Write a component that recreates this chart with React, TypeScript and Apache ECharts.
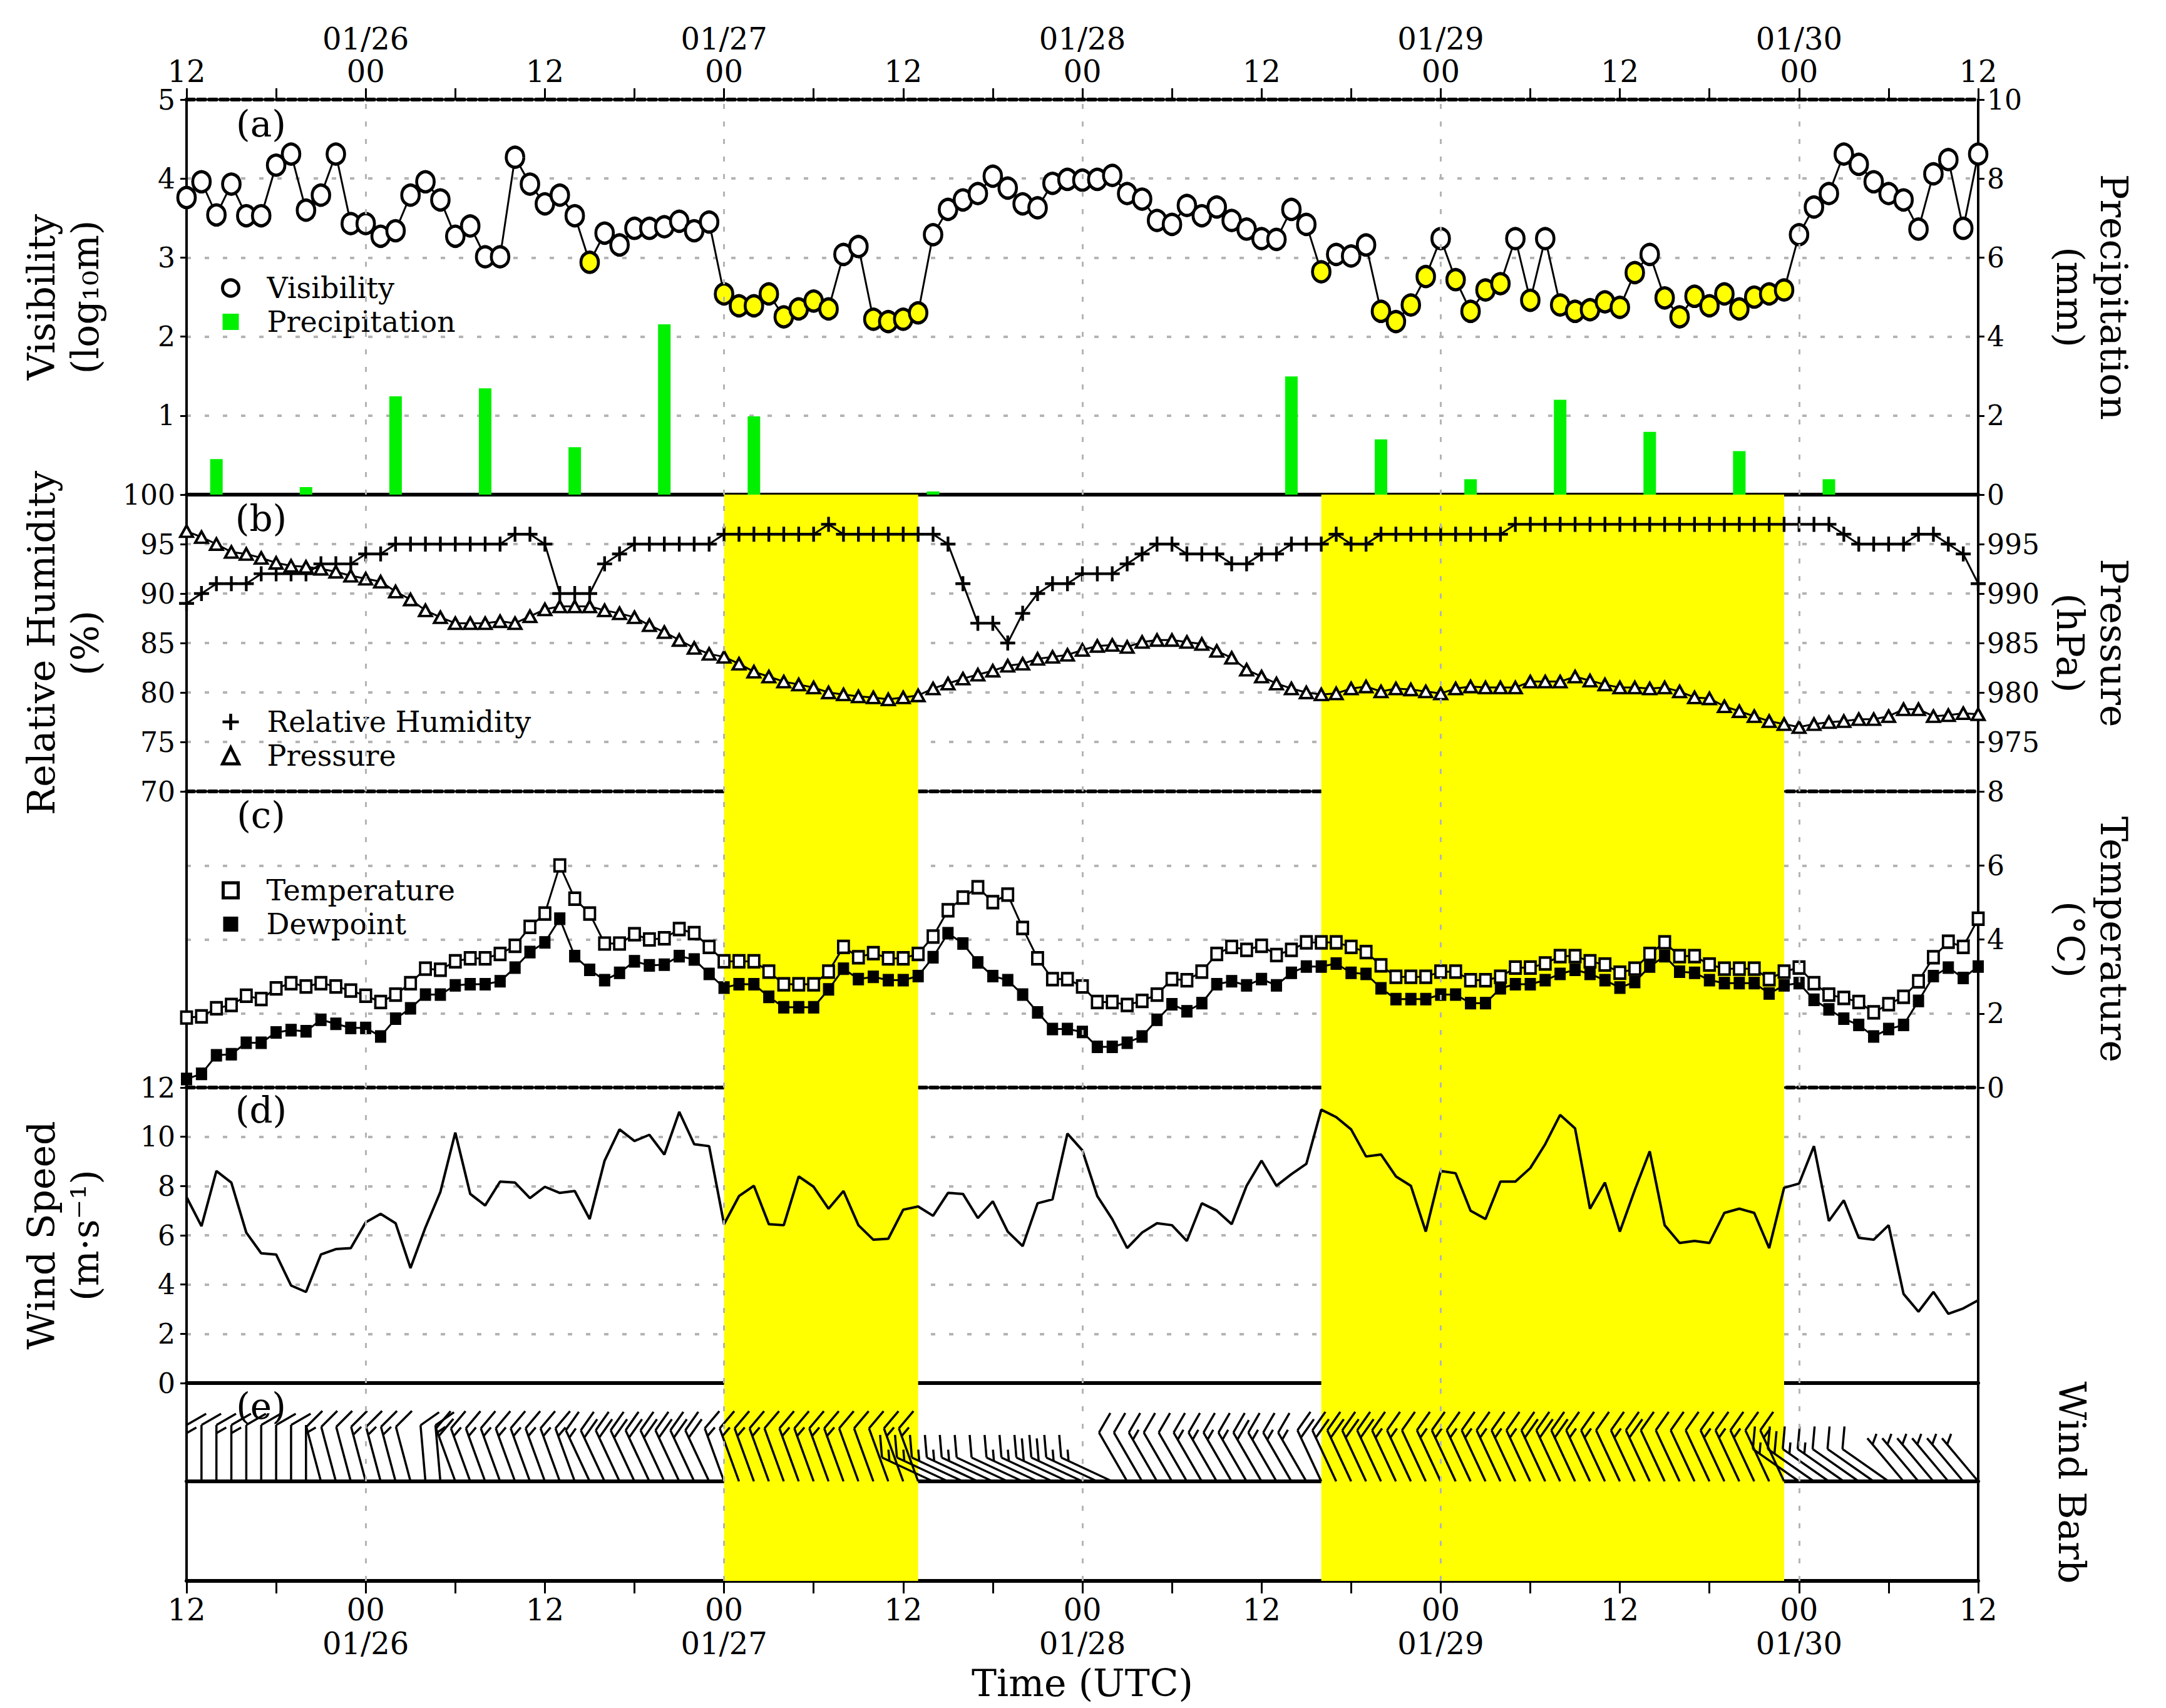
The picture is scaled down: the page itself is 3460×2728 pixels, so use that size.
import React, { useEffect, useRef } from "react";
import * as echarts from "echarts";

const FONT = "DejaVu Serif";

const TICK_HOURS = [0, 12, 24, 36, 48, 60, 72, 84, 96, 108, 120];
const TICK_LABELS = ["12", "00", "12", "00", "12", "00", "12", "00", "12", "00", "12"];
const DAY_HOURS = [12, 36, 60, 84, 108];
const DATE_LABELS = ["01/26", "01/27", "01/28", "01/29", "01/30"];
const SHADED = [[36, 49], [76, 107]];

const VISIBILITY = [
  3.76, 3.96, 3.54, 3.93, 3.53, 3.53, 4.17, 4.31, 3.6, 3.79,
  4.31, 3.43, 3.43, 3.27, 3.34, 3.79, 3.96, 3.73, 3.27, 3.4,
  3.01, 3.01, 4.27, 3.93, 3.68, 3.79, 3.53, 2.94, 3.31, 3.16,
  3.37, 3.37, 3.39, 3.46, 3.34, 3.45, 2.54, 2.39, 2.39, 2.54,
  2.25, 2.35, 2.45, 2.35, 3.04, 3.14, 2.22, 2.19, 2.22, 2.3,
  3.29, 3.61, 3.73, 3.81, 4.03, 3.88, 3.68, 3.63, 3.94, 3.99,
  3.98, 3.99, 4.04, 3.81, 3.74, 3.47, 3.42, 3.66, 3.53, 3.64,
  3.47, 3.36, 3.24, 3.23, 3.61, 3.42, 2.82, 3.04, 3.02, 3.16,
  2.32, 2.19, 2.4, 2.76, 3.24, 2.72, 2.32, 2.59, 2.67, 3.24,
  2.46, 3.24, 2.4, 2.32, 2.34, 2.44, 2.37, 2.81, 3.04, 2.49,
  2.25, 2.51, 2.39, 2.54, 2.35, 2.5, 2.54, 2.59, 3.29, 3.64,
  3.81, 4.31, 4.18, 3.96, 3.81, 3.73, 3.36, 4.06, 4.24, 3.37,
  4.31,
];

const PRECIP_HOURS = [2, 8, 14, 20, 26, 32, 38, 44, 50, 56, 62, 68, 74, 80, 86, 92, 98, 104, 110, 116];
const PRECIP = [0.9, 0.19, 2.49, 2.69, 1.2, 4.31, 1.98, 0, 0.08, 0, 0, 0, 2.99, 1.4, 0.39, 2.4, 1.59, 1.1, 0.39, 0];

const RH = [
  89, 90, 91, 91, 91, 92, 92, 92, 92, 93,
  93, 93, 94, 94, 95, 95, 95, 95, 95, 95,
  95, 95, 96, 96, 95, 90, 90, 90, 93, 94,
  95, 95, 95, 95, 95, 95, 96, 96, 96, 96,
  96, 96, 96, 97, 96, 96, 96, 96, 96, 96,
  96, 95, 91, 87, 87, 85, 88, 90, 91, 91,
  92, 92, 92, 93, 94, 95, 95, 94, 94, 94,
  93, 93, 94, 94, 95, 95, 95, 96, 95, 95,
  96, 96, 96, 96, 96, 96, 96, 96, 96, 97,
  97, 97, 97, 97, 97, 97, 97, 97, 97, 97,
  97, 97, 97, 97, 97, 97, 97, 97, 97, 97,
  97, 96, 95, 95, 95, 95, 96, 96, 95, 94,
  91,
];

const PRESSURE = [
  996.3, 995.7, 995.0, 994.2, 994.0, 993.6, 993.1, 992.8, 992.7, 992.5,
  992.2, 991.8, 991.5, 991.2, 990.2, 989.4, 988.3, 987.6, 987.0, 987.0,
  987.0, 987.2, 987.0, 987.7, 988.4, 988.7, 988.7, 988.7, 988.3, 988.0,
  987.6, 986.8, 986.1, 985.3, 984.5, 983.9, 983.6, 982.9, 982.1, 981.6,
  981.1, 980.8, 980.5, 980.0, 979.8, 979.6, 979.5, 979.3, 979.5, 979.7,
  980.4, 980.9, 981.4, 981.8, 982.2, 982.7, 982.9, 983.4, 983.6, 983.8,
  984.3, 984.7, 984.8, 984.6, 985.1, 985.3, 985.3, 985.1, 984.9, 984.2,
  983.5, 982.3, 981.6, 980.9, 980.4, 980.0, 979.8, 979.9, 980.4, 980.6,
  980.1, 980.4, 980.3, 980.1, 979.9, 980.4, 980.6, 980.5, 980.5, 980.5,
  981.1, 981.1, 981.1, 981.6, 981.2, 980.8, 980.5, 980.5, 980.4, 980.5,
  980.1, 979.5, 979.4, 978.6, 978.1, 977.6, 977.1, 976.8, 976.5, 976.8,
  977.0, 977.1, 977.3, 977.3, 977.6, 978.3, 978.3, 977.6, 977.7, 977.9,
  977.8,
];

const TEMPERATURE = [
  1.89, 1.92, 2.14, 2.23, 2.48, 2.39, 2.68, 2.82, 2.73, 2.82,
  2.73, 2.62, 2.48, 2.31, 2.51, 2.82, 3.21, 3.18, 3.41, 3.49,
  3.49, 3.61, 3.83, 4.34, 4.7, 6.0, 5.1, 4.7, 3.89, 3.89,
  4.14, 4.0, 4.03, 4.28, 4.17, 3.8, 3.41, 3.41, 3.41, 3.13,
  2.79, 2.79, 2.79, 3.13, 3.8, 3.52, 3.63, 3.49, 3.49, 3.61,
  4.08, 4.79, 5.13, 5.41, 5.01, 5.21, 4.31, 3.49, 2.93, 2.93,
  2.73, 2.31, 2.31, 2.23, 2.34, 2.51, 2.93, 2.9, 3.13, 3.61,
  3.8, 3.72, 3.83, 3.58, 3.72, 3.92, 3.92, 3.92, 3.8, 3.66,
  3.3, 2.99, 2.99, 2.99, 3.13, 3.13, 2.9, 2.9, 2.99, 3.24,
  3.24, 3.35, 3.55, 3.55, 3.41, 3.32, 3.1, 3.21, 3.61, 3.92,
  3.55, 3.55, 3.32, 3.21, 3.21, 3.21, 2.93, 3.13, 3.24, 2.82,
  2.51, 2.42, 2.31, 2.03, 2.25, 2.45, 2.87, 3.52, 3.94, 3.8,
  4.56,
];

const DEWPOINT = [
  0.23, 0.37, 0.87, 0.9, 1.21, 1.21, 1.49, 1.55, 1.52, 1.83,
  1.72, 1.61, 1.61, 1.38, 1.86, 2.14, 2.51, 2.51, 2.76, 2.79,
  2.79, 2.87, 3.24, 3.66, 3.92, 4.56, 3.55, 3.18, 2.9, 3.1,
  3.41, 3.3, 3.32, 3.55, 3.46, 3.07, 2.7, 2.79, 2.79, 2.45,
  2.17, 2.17, 2.17, 2.65, 3.21, 2.93, 2.99, 2.9, 2.9, 3.01,
  3.52, 4.17, 3.89, 3.38, 3.01, 2.9, 2.51, 2.03, 1.58, 1.58,
  1.5, 1.1, 1.1, 1.21, 1.38, 1.83, 2.25, 2.06, 2.28, 2.79,
  2.87, 2.76, 2.93, 2.76, 3.1, 3.27, 3.27, 3.35, 3.1, 3.07,
  2.68, 2.39, 2.39, 2.39, 2.51, 2.51, 2.28, 2.28, 2.68, 2.79,
  2.79, 2.9, 3.07, 3.18, 3.07, 2.9, 2.7, 2.85, 3.27, 3.55,
  3.13, 3.1, 2.9, 2.82, 2.82, 2.82, 2.54, 2.76, 2.82, 2.37,
  2.11, 1.86, 1.69, 1.38, 1.58, 1.69, 2.34, 3.01, 3.24, 2.96,
  3.27,
];

const WIND_SPEED = [
  7.55, 6.37, 8.61, 8.14, 6.11, 5.27, 5.22, 3.96, 3.7, 5.22,
  5.44, 5.48, 6.53, 6.87, 6.49, 4.67, 6.32, 7.76, 10.17, 7.68,
  7.21, 8.18, 8.14, 7.51, 7.97, 7.72, 7.8, 6.66, 9.03, 10.3,
  9.83, 10.08, 9.28, 11.01, 9.7, 9.62, 6.45, 7.59, 8.01, 6.45,
  6.41, 8.39, 7.97, 7.08, 7.8, 6.41, 5.82, 5.86, 7.04, 7.17,
  6.79, 7.72, 7.68, 6.7, 7.38, 6.15, 5.56, 7.3, 7.46, 10.13,
  9.45, 7.59, 6.66, 5.48, 6.11, 6.49, 6.41, 5.77, 7.3, 7.0,
  6.45, 8.01, 9.03, 8.01, 8.48, 8.9, 11.1, 10.8, 10.3, 9.2,
  9.28, 8.39, 8.01, 6.15, 8.61, 8.52, 7.0, 6.66, 8.18, 8.18,
  8.73, 9.7, 10.89, 10.34, 7.08, 8.14, 6.15, 7.84, 9.41, 6.41,
  5.69, 5.77, 5.69, 6.91, 7.08, 6.91, 5.48, 7.93, 8.1, 9.62,
  6.58, 7.42, 5.9, 5.82, 6.41, 3.62, 2.9, 3.7, 2.81, 3.03,
  3.36,
];

const WIND_DIR = [
  0, 0, 0, 0, 0, 0, 0, 0, 0, 345,
  345, 345, 345, 345, 345, 345, 355, 355, 340, 340,
  340, 340, 340, 340, 340, 340, 340, 335, 335, 335,
  335, 335, 335, 335, 335, 335, 340, 340, 340, 340,
  340, 340, 340, 340, 340, 340, 340, 340, 340, 340,
  295, 295, 295, 295, 295, 295, 295, 295, 295, 295,
  295, 295, 295, 330, 330, 330, 330, 330, 330, 330,
  330, 330, 330, 330, 330, 330, 335, 335, 335, 335,
  335, 335, 335, 335, 335, 335, 335, 335, 335, 335,
  335, 335, 335, 335, 335, 335, 335, 335, 335, 335,
  335, 335, 335, 335, 335, 335, 335, 335, 305, 305,
  305, 305, 305, 305, 305, 320, 320, 320, 320, 320,
  320,
];

const PLUS_PATH = "path://M9,0H13V9H22V13H13V22H9V13H0V9H9Z";

const GRIDS = [
  { top: 159, height: 631 },
  { top: 790, height: 474 },
  { top: 1264, height: 473 },
  { top: 1737, height: 472 },
  { top: 2209, height: 157 },
  { top: 2366, height: 159 },
];

function hourFormatter(v: number) {
  const i = TICK_HOURS.indexOf(v);
  return i < 0 ? "" : TICK_LABELS[i];
}

function dateFormatter(v: number) {
  const d = DAY_HOURS.indexOf(v);
  return d < 0 ? "" : DATE_LABELS[d];
}

const DOT = { color: "#b4b4b4", type: [7, 22], width: 4 };
const LABEL_FONT = { color: "#000", fontFamily: FONT, fontSize: 48, lineHeight: 48 };

function xAxisBase(gridIndex: number, lineType: any, extra: any = {}) {
  return {
    type: "value",
    gridIndex,
    min: 0,
    max: 120,
    interval: 6,
    axisLine: { show: true, onZero: false, lineStyle: { color: "#000", width: 6, type: lineType } },
    axisTick: { show: false },
    axisLabel: { show: false },
    splitLine: { show: false },
    ...extra,
  };
}

function dateAxis(gridIndex: number, position: string, margin: number, extra: any = {}) {
  return {
    type: "value",
    gridIndex,
    position,
    min: 0,
    max: 120,
    interval: 6,
    axisLine: { show: false, onZero: false },
    axisTick: { show: false },
    axisLabel: { show: true, ...LABEL_FONT, margin, formatter: dateFormatter },
    splitLine: { show: false },
    ...extra,
  };
}

function yAxisBase(gridIndex: number, position: string, min: number, max: number, interval: number, extra: any = {}) {
  return {
    type: "value",
    gridIndex,
    position,
    min,
    max,
    interval,
    axisLine: { show: true, onZero: false, lineStyle: { color: "#000", width: 4 } },
    axisTick: { show: true, length: 10, lineStyle: { color: "#000", width: 3 } },
    axisLabel: {
      show: true,
      color: "#000",
      fontFamily: FONT,
      fontSize: 44,
      margin: position === "left" ? 18 : 14,
    },
    splitLine: { show: false },
    nameLocation: "middle",
    nameRotate: position === "left" ? 90 : -90,
    nameGap: position === "left" ? 127 : 112,
    nameTextStyle: { color: "#000", fontFamily: FONT, fontSize: 60, lineHeight: 70 },
    ...extra,
  };
}

function bandSeries(gi: number, xi: number, yi: number) {
  return {
    type: "line",
    xAxisIndex: xi,
    yAxisIndex: yi,
    data: [],
    silent: true,
    z: -1,
    markArea: gi === 0 ? undefined : {
      silent: true,
      itemStyle: { color: "#ffff00" },
      data: SHADED.map((b) => [{ xAxis: b[0] }, { xAxis: b[1] }]),
    },
    markLine: {
      silent: true,
      symbol: "none",
      label: { show: false },
      lineStyle: { color: "#b4b4b4", type: [8, 20], width: 3 },
      data: DAY_HOURS.map((h) => ({ xAxis: h })),
    },
  };
}

function barbRender(params: any, api: any) {
  const h = api.value(0);
  const ms = api.value(1);
  const dir = api.value(2);
  const base = api.coord([h, 0]);
  const th = (dir * Math.PI) / 180;
  const sx = Math.sin(th);
  const sy = -Math.cos(th);
  const L = 90;
  const F = 36;
  const GAP = 13;
  const tip = [base[0] + L * sx, base[1] + L * sy];
  const fx = 0.87 * -sy + 0.5 * sx;
  const fy = 0.87 * sx + 0.5 * sy;
  const st = { stroke: "#000", lineWidth: 3.5 };
  const children: any[] = [
    { type: "line", shape: { x1: base[0], y1: base[1], x2: tip[0], y2: tip[1] }, style: st },
  ];
  let kt = Math.round((ms * 1.9438) / 5) * 5;
  let pos = 0;
  while (kt >= 10) {
    const p = [tip[0] - pos * sx, tip[1] - pos * sy];
    children.push({ type: "line", shape: { x1: p[0], y1: p[1], x2: p[0] + F * fx, y2: p[1] + F * fy }, style: st });
    pos += GAP;
    kt -= 10;
  }
  if (kt >= 5) {
    if (pos === 0) pos = GAP;
    const p = [tip[0] - pos * sx, tip[1] - pos * sy];
    children.push({ type: "line", shape: { x1: p[0], y1: p[1], x2: p[0] + (F / 2) * fx, y2: p[1] + (F / 2) * fy }, style: st });
  }
  return { type: "group", children };
}

function buildOption() {
  const legendText = { color: "#000", fontFamily: FONT, fontSize: 46, padding: [0, 0, 0, 40] };
  const legendBase = {
    orient: "vertical",
    itemWidth: 26,
    itemHeight: 26,
    itemGap: 8,
    selectedMode: false,
    textStyle: legendText,
  };
  const noLabelY = { axisLabel: { show: false }, axisTick: { show: false } };
  return {
    animation: false,
    backgroundColor: "#fff",
    textStyle: { fontFamily: FONT },
    grid: GRIDS.map((g) => ({ left: 298, width: 2862, top: g.top, height: g.height, containLabel: false })),
    xAxis: [
      xAxisBase(0, [12, 6], {
        position: "top",
        axisTick: { show: true, length: 18, lineStyle: { color: "#000", width: 3 } },
        axisLabel: { show: true, ...LABEL_FONT, margin: 21, formatter: hourFormatter },
      }),
      xAxisBase(0, "solid", { position: "bottom" }),
      xAxisBase(1, [12, 6], { position: "bottom" }),
      xAxisBase(2, [12, 6], { position: "bottom" }),
      xAxisBase(3, "solid", { position: "bottom" }),
      xAxisBase(4, "solid", { position: "bottom" }),
      xAxisBase(5, "solid", {
        position: "bottom",
        axisTick: { show: true, length: 20, lineStyle: { color: "#000", width: 3 } },
        axisLabel: { show: true, ...LABEL_FONT, margin: 22, formatter: hourFormatter },
      }),
      dateAxis(0, "top", 73),
      dateAxis(5, "bottom", 76, {
        name: "Time (UTC)",
        nameLocation: "middle",
        nameGap: 133,
        nameTextStyle: { color: "#000", fontFamily: FONT, fontSize: 60 },
      }),
    ],
    yAxis: [
      yAxisBase(0, "left", 0, 5, 1, {
        name: "Visibility\n(log\u2081\u2080m)",
        axisLabel: { show: true, color: "#000", fontFamily: FONT, fontSize: 44, margin: 18, showMinLabel: false },
        splitLine: { show: true, lineStyle: DOT },
      }),
      yAxisBase(0, "right", 0, 10, 2, { name: "Precipitation\n(mm)" }),
      yAxisBase(1, "left", 70, 100, 5, {
        name: "Relative Humidity\n(%)",
        splitLine: { show: true, lineStyle: DOT },
      }),
      yAxisBase(1, "right", 970, 1000, 5, {
        name: "Pressure\n(hPa)",
        axisLabel: { show: true, color: "#000", fontFamily: FONT, fontSize: 44, margin: 14, showMinLabel: false, showMaxLabel: false },
      }),
      yAxisBase(2, "left", 0, 8, 2, noLabelY),
      yAxisBase(2, "right", 0, 8, 2, {
        name: "Temperature\n(\u00b0C)",
        splitLine: { show: true, lineStyle: DOT },
      }),
      yAxisBase(3, "left", 0, 12, 2, {
        name: "Wind Speed\n(m\u00b7s\u207b\u00b9)",
        splitLine: { show: true, lineStyle: DOT },
      }),
      yAxisBase(3, "right", 0, 12, 2, noLabelY),
      yAxisBase(4, "left", 0, 1, 1, noLabelY),
      yAxisBase(4, "right", 0, 1, 1, noLabelY),
      yAxisBase(5, "left", 0, 1, 1, noLabelY),
      yAxisBase(5, "right", 0, 1, 1, noLabelY),
    ],
    legend: [
      {
        ...legendBase,
        left: 348,
        top: 432,
        data: [
          { name: "Visibility", icon: "circle", itemStyle: { color: "#fff", borderColor: "#000", borderWidth: 5 } },
          { name: "Precipitation", icon: "rect", itemStyle: { color: "#00f000", borderWidth: 0 } },
        ],
      },
      {
        ...legendBase,
        left: 348,
        top: 1125,
        data: [
          { name: "Relative Humidity", icon: PLUS_PATH, itemStyle: { color: "#000", borderWidth: 0 } },
          { name: "Pressure", icon: "triangle", itemStyle: { color: "#fff", borderColor: "#000", borderWidth: 5 } },
        ],
      },
      {
        ...legendBase,
        itemWidth: 24,
        itemHeight: 24,
        left: 349,
        top: 1394,
        data: [
          { name: "Temperature", icon: "rect", itemStyle: { color: "#fff", borderColor: "#000", borderWidth: 5 } },
          { name: "Dewpoint", icon: "rect", itemStyle: { color: "#000", borderWidth: 0 } },
        ],
      },
    ],
    graphic: [
      ...["(a)", "(b)", "(c)", "(d)", "(e)"].map((t, i) => ({
        type: "text",
        x: 417,
        y: [198, 828, 1302, 1773, 2246][i],
        style: { text: t, fill: "#000", fontFamily: FONT, fontSize: 58, align: "center", verticalAlign: "middle" },
        z: 50,
      })),
      {
        type: "text",
        x: 3310,
        y: 2368,
        rotation: -Math.PI / 2,
        style: { text: "Wind Barb", fill: "#000", fontFamily: FONT, fontSize: 60, align: "center", verticalAlign: "middle" },
      },
    ],
    series: [
      bandSeries(0, 1, 0),
      bandSeries(1, 2, 2),
      bandSeries(2, 3, 5),
      bandSeries(3, 4, 6),
      bandSeries(4, 5, 8),
      bandSeries(5, 6, 10),
      {
        name: "Precipitation",
        type: "bar",
        xAxisIndex: 1,
        yAxisIndex: 1,
        barWidth: 20,
        itemStyle: { color: "#00f000" },
        data: PRECIP_HOURS.map((h, i) => [h, PRECIP[i]]),
        z: 2,
      },
      {
        name: "Visibility",
        type: "line",
        xAxisIndex: 1,
        yAxisIndex: 0,
        symbol: "circle",
        symbolSize: [28, 32],
        lineStyle: { color: "#000", width: 3 },
        itemStyle: { color: "#fff", borderColor: "#000", borderWidth: 5 },
        data: VISIBILITY.map((v, i) => ({ value: [i, v], itemStyle: { color: v < 3 ? "#ffff00" : "#fff" } })),
        z: 4,
      },
      {
        name: "Relative Humidity",
        type: "line",
        xAxisIndex: 2,
        yAxisIndex: 2,
        symbol: PLUS_PATH,
        symbolSize: 24,
        lineStyle: { color: "#000", width: 3 },
        itemStyle: { color: "#000" },
        data: RH.map((v, i) => [i, v]),
        z: 4,
      },
      {
        name: "Pressure",
        type: "line",
        xAxisIndex: 2,
        yAxisIndex: 3,
        symbol: "triangle",
        symbolSize: [20, 18],
        lineStyle: { color: "#000", width: 3 },
        itemStyle: { color: "#fff", borderColor: "#000", borderWidth: 4 },
        data: PRESSURE.map((v, i) => [i, v]),
        z: 4,
      },
      {
        name: "Temperature",
        type: "line",
        xAxisIndex: 3,
        yAxisIndex: 5,
        symbol: "rect",
        symbolSize: [17, 19],
        lineStyle: { color: "#000", width: 3 },
        itemStyle: { color: "#fff", borderColor: "#000", borderWidth: 4 },
        data: TEMPERATURE.map((v, i) => [i, v]),
        z: 4,
      },
      {
        name: "Dewpoint",
        type: "line",
        xAxisIndex: 3,
        yAxisIndex: 5,
        symbol: "rect",
        symbolSize: [17, 19],
        lineStyle: { color: "#000", width: 3 },
        itemStyle: { color: "#000", borderColor: "#000", borderWidth: 1 },
        data: DEWPOINT.map((v, i) => [i, v]),
        z: 4,
      },
      {
        name: "Wind Speed",
        type: "line",
        xAxisIndex: 4,
        yAxisIndex: 6,
        symbol: "none",
        lineStyle: { color: "#000", width: 4 },
        data: WIND_SPEED.map((v, i) => [i, v]),
        z: 4,
      },
      {
        name: "Wind Barb",
        type: "custom",
        xAxisIndex: 5,
        yAxisIndex: 8,
        clip: false,
        renderItem: barbRender,
        data: WIND_SPEED.map((v, i) => [i, v, WIND_DIR[i]]),
        z: 4,
      },
    ],
  };
}

export default function App() {
  const ref = useRef<HTMLDivElement | null>(null);
  useEffect(() => {
    if (!ref.current) return;
    const chart = echarts.init(ref.current, undefined, { renderer: "svg" });
    chart.setOption(buildOption() as any);
    return () => chart.dispose();
  }, []);
  return (
    <div
      ref={ref}
      style={{ position: "absolute", left: 0, top: 0, width: 3460, height: 2728, background: "#fff" }}
    />
  );
}
